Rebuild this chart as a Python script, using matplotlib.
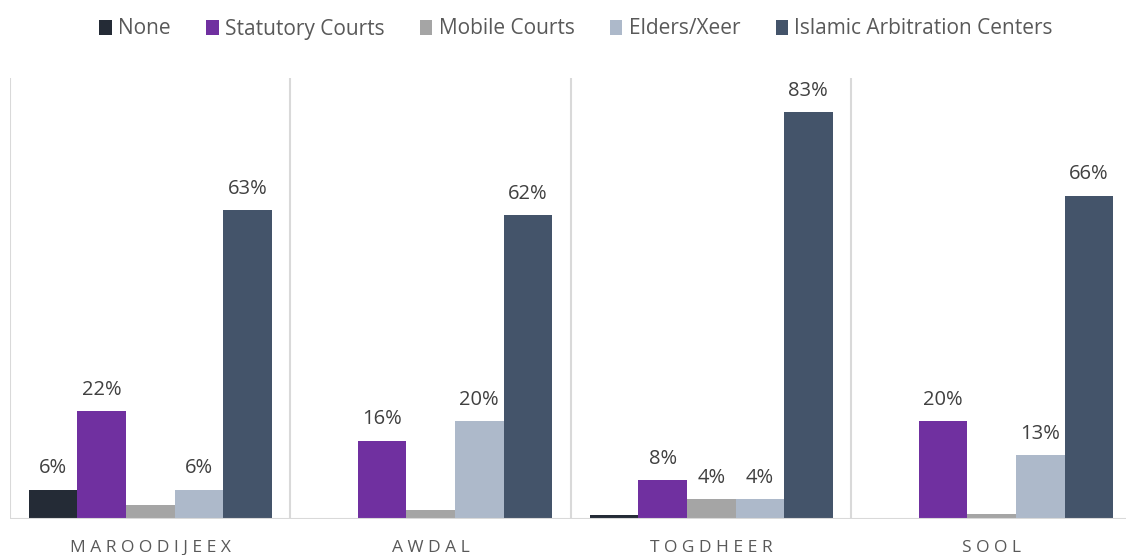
import numpy as np
import matplotlib.pyplot as plt

regions = ["MAROODIJEEX", "AWDAL", "TOGDHEER", "SOOL"]
series = ["None", "Statutory Courts", "Mobile Courts", "Elders/Xeer", "Islamic Arbitration Centers"]
none_vals = [6, 0, 0.8, 0]
statutory = [22, 16, 8, 20]
mobile = [2.9, 1.8, 4, 1]
elders = [6, 20, 4, 13]
islamic = [63, 62, 83, 66]
# which values get a label (small ones are unlabelled in the original)
labels = [
    ["6%", "", "", ""],
    ["22%", "16%", "8%", "20%"],
    ["", "", "4%", ""],
    ["6%", "20%", "4%", "13%"],
    ["63%", "62%", "83%", "66%"],
]
colors = ["#242B36", "#7030A0", "#A5A5A5", "#ADB9CA", "#44546A"]

plt.rcParams['font.family'] = ['Open Sans', 'DejaVu Sans']

fig = plt.figure(figsize=(11.26, 5.55), dpi=100)
ax = fig.add_axes([10 / 1126, 36 / 555, 1122 / 1126, 441 / 555])

data = [none_vals, statutory, mobile, elders, islamic]
x = np.arange(len(regions))
w = 0.173
for i, (name, vals) in enumerate(zip(series, data)):
    pos = x + (i - 2) * w
    bars = ax.bar(pos, vals, w, color=colors[i], label=name, zorder=3)
    for b, lab in zip(bars, labels[i]):
        if lab:
            ax.annotate(lab, (b.get_x() + b.get_width() / 2, b.get_height()),
                        xytext=(0, 8), textcoords="offset points",
                        ha="center", va="bottom", fontsize=14.5, color="#404040")

ax.set_xlim(-0.5, 3.5)
ax.set_ylim(0, 90)
for s in [-0.5, 0.5, 1.5, 2.5, 3.5]:
    ax.axvline(s, color="#D9D9D9", lw=1.5, zorder=1)
for sp in ax.spines.values():
    sp.set_visible(False)
ax.axhline(0, color="#D9D9D9", lw=1.5, zorder=4)
ax.set_yticks([])
ax.set_xticks(x)
ax.set_xticklabels([" ".join(r) for r in regions], fontsize=12.5, color="#595959")
ax.tick_params(axis="x", length=0, pad=15)

fig.legend(loc="center", bbox_to_anchor=(576 / 1126, 1 - 29 / 555), ncol=5,
           frameon=False, fontsize=15, handlelength=0.6, handleheight=0.7,
           handletextpad=0.3, columnspacing=1.7, labelcolor="#595959")

fig.savefig("out.png", dpi=100)
